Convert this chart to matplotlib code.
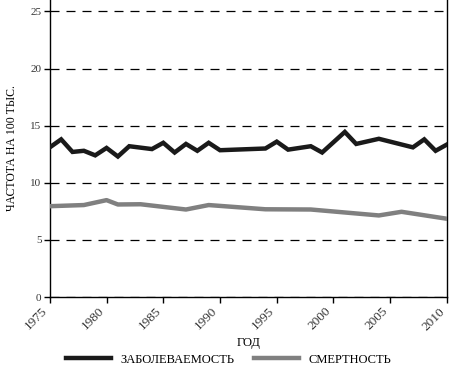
import matplotlib
matplotlib.use("Agg")
import matplotlib.pyplot as plt
import matplotlib.transforms as mtransforms

years_inc = [1975, 1976, 1977, 1978, 1979, 1980, 1981, 1982, 1984, 1985, 1986, 1987, 1988, 1989, 1990,
             1994, 1995, 1996, 1998, 1999, 2001, 2002, 2004, 2007, 2008, 2009, 2010]
incidence = [13.1, 13.8, 12.7, 12.8, 12.4, 13.05, 12.3, 13.2, 12.95, 13.5, 12.65, 13.4, 12.8, 13.5, 12.85,
             13.0, 13.6, 12.9, 13.2, 12.65, 14.45, 13.4, 13.85, 13.1, 13.8, 12.8, 13.35]

years_mort = [1975, 1978, 1980, 1981, 1983, 1987, 1989, 1994, 1998, 2004, 2006, 2010]
mortality = [7.95, 8.05, 8.48, 8.1, 8.12, 7.66, 8.05, 7.68, 7.66, 7.14, 7.46, 6.85]

xticks = [1975, 1980, 1985, 1990, 1995, 2000, 2005, 2010]
yticks = [0, 5, 10, 15, 20, 25]

plt.rcParams['font.family'] = ['Liberation Serif', 'DejaVu Serif']

fig = plt.figure(figsize=(4.57, 3.66), dpi=100)
ax = fig.add_axes([0.109, 0.1885, 0.869, 0.8115])

ax.plot(years_inc, incidence, color='#1a1a1a', lw=3.2, solid_joinstyle='miter', label='ЗАБОЛЕВАЕМОСТЬ', zorder=3)
ax.plot(years_mort, mortality, color='#808080', lw=3.2, label='СМЕРТНОСТЬ', zorder=3)

ax.set_xlim(1975, 2010)
ax.set_ylim(0, 26.0)
ax.set_xticks(xticks)
ax.set_yticks(yticks)
ax.set_xticklabels([str(x) for x in xticks], rotation=45, fontsize=9.5, color='#333333')
ax.set_yticklabels([str(y) for y in yticks], fontsize=8, color='#333333')
offset = mtransforms.ScaledTranslation(3 / 100, 0, fig.dpi_scale_trans)
for lbl in ax.get_xticklabels():
    lbl.set_ha('right')
    lbl.set_transform(lbl.get_transform() + offset)
ax.tick_params(axis='both', direction='out', length=4, width=1, color='black', pad=2)
ax.grid(axis='y', linestyle=(0, (7.2, 5.6)), color='black', lw=0.9)
ax.spines['top'].set_visible(False)
for s in ['left', 'right', 'bottom']:
    ax.spines[s].set_linewidth(1.0)

ax.set_xlabel('ГОД', fontsize=9, labelpad=3)
ax.set_ylabel('ЧАСТОТА НА 100 ТЫС.', fontsize=8.5, labelpad=9)

leg = fig.legend(loc='lower center', bbox_to_anchor=(0.5, -0.03), ncol=2, frameon=False,
                 fontsize=9, handlelength=3.6, columnspacing=1.5, handletextpad=0.8)

fig.savefig('out.png', dpi=100)
